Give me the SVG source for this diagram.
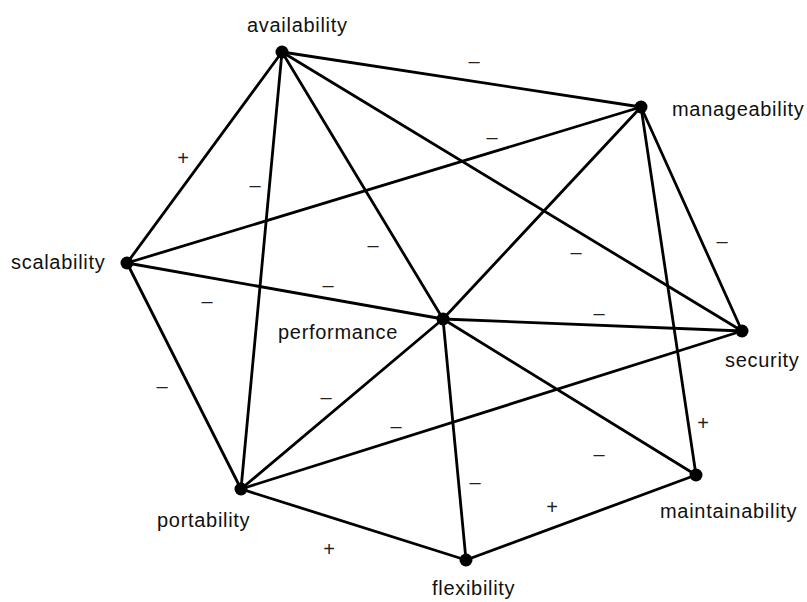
<svg xmlns="http://www.w3.org/2000/svg" width="807" height="602" viewBox="0 0 807 602">
  <style>
    .edge { stroke: #000; stroke-width: 2.8; fill: none; stroke-linecap: round; }
    .dot { fill: #000; }
    .name { font-family: "Liberation Sans", Arial, Helvetica, sans-serif; font-size: 20px; letter-spacing: 0.7px; fill: #111; }
    .sign { font-family: "Liberation Sans", Arial, Helvetica, sans-serif; font-size: 20px; fill: #222; text-anchor: middle; }
  </style>
  <rect width="807" height="602" fill="#fff"/>

  <!-- trade-off links between quality attributes -->
  <g id="connectors">
    <line class="edge" x1="282" y1="52" x2="641" y2="107"/>
    <line class="edge" x1="282" y1="52" x2="127" y2="263"/>
    <line class="edge" x1="282" y1="52" x2="241" y2="489"/>
    <line class="edge" x1="282" y1="52" x2="443" y2="319"/>
    <line class="edge" x1="282" y1="52" x2="742" y2="331"/>
    <line class="edge" x1="641" y1="107" x2="127" y2="263"/>
    <line class="edge" x1="641" y1="107" x2="443" y2="319"/>
    <line class="edge" x1="641" y1="107" x2="742" y2="331"/>
    <line class="edge" x1="641" y1="107" x2="696" y2="475"/>
    <line class="edge" x1="127" y1="263" x2="443" y2="319"/>
    <line class="edge" x1="127" y1="263" x2="241" y2="489"/>
    <line class="edge" x1="443" y1="319" x2="742" y2="331"/>
    <line class="edge" x1="443" y1="319" x2="241" y2="489"/>
    <line class="edge" x1="443" y1="319" x2="466" y2="560"/>
    <line class="edge" x1="443" y1="319" x2="696" y2="475"/>
    <line class="edge" x1="241" y1="489" x2="742" y2="331"/>
    <line class="edge" x1="241" y1="489" x2="466" y2="560"/>
    <line class="edge" x1="466" y1="560" x2="696" y2="475"/>
  </g>

  <!-- link polarity marks -->
  <g id="signs">
    <text class="sign" x="474" y="68">–</text>
    <text class="sign" x="492" y="144">–</text>
    <text class="sign" x="183" y="165">+</text>
    <text class="sign" x="255" y="192">–</text>
    <text class="sign" x="373" y="252">–</text>
    <text class="sign" x="328" y="292">–</text>
    <text class="sign" x="207" y="308">–</text>
    <text class="sign" x="162" y="393">–</text>
    <text class="sign" x="576" y="259">–</text>
    <text class="sign" x="722" y="248">–</text>
    <text class="sign" x="599" y="320">–</text>
    <text class="sign" x="326" y="404">–</text>
    <text class="sign" x="396" y="433">–</text>
    <text class="sign" x="475" y="489">–</text>
    <text class="sign" x="599" y="461">–</text>
    <text class="sign" x="703" y="430">+</text>
    <text class="sign" x="552" y="514">+</text>
    <text class="sign" x="329" y="556">+</text>
  </g>

  <g id="availability">
    <circle class="dot" cx="282" cy="52" r="6.5"/>
    <text class="name" x="247" y="32">availability</text>
  </g>
  <g id="manageability">
    <circle class="dot" cx="641" cy="107" r="6.5"/>
    <text class="name" x="672" y="116">manageability</text>
  </g>
  <g id="scalability">
    <circle class="dot" cx="127" cy="263" r="6.5"/>
    <text class="name" x="11" y="269">scalability</text>
  </g>
  <g id="performance">
    <circle class="dot" cx="443" cy="319" r="6.5"/>
    <text class="name" x="278" y="339">performance</text>
  </g>
  <g id="security">
    <circle class="dot" cx="742" cy="331" r="6.5"/>
    <text class="name" x="725" y="367">security</text>
  </g>
  <g id="portability">
    <circle class="dot" cx="241" cy="489" r="6.5"/>
    <text class="name" x="157" y="527">portability</text>
  </g>
  <g id="flexibility">
    <circle class="dot" cx="466" cy="560" r="6.5"/>
    <text class="name" x="432" y="595">flexibility</text>
  </g>
  <g id="maintainability">
    <circle class="dot" cx="696" cy="475" r="6.5"/>
    <text class="name" x="660" y="518">maintainability</text>
  </g>
</svg>
